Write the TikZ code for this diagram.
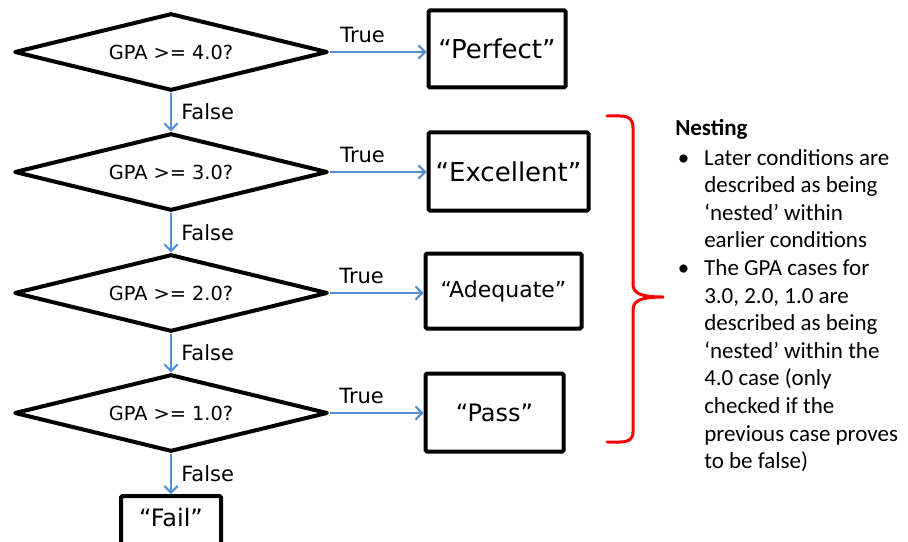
\documentclass[tikz,border=0pt]{standalone}
\usepackage{fontspec}
\setmainfont{DejaVu Sans}
\newfontfamily\calib{Carlito}
\usetikzlibrary{shapes.geometric,arrows.meta}
\definecolor{flowblue}{RGB}{85,142,213}
\definecolor{bracered}{RGB}{250,0,0}
\begin{document}
\begin{tikzpicture}[x=0.75pt,y=-0.75pt,
  decision/.style={diamond, draw, line width=3pt, line join=round, aspect=4,
    minimum width=235pt, minimum height=58pt, inner sep=0pt,
    font=\fontsize{14.5}{17}\selectfont},
  outcome/.style={rectangle, draw, line width=3pt, inner sep=0pt,
    rounded corners=1pt},
  flow/.style={draw=flowblue, line width=1.5pt,
    -{Straight Barb[length=5pt,width=10pt,line width=1.5pt]}},
  lbl/.style={font=\fontsize{15.75}{18}\selectfont, inner sep=1pt},
  bracestyle/.style={draw=bracered, line width=2.25pt, line cap=round, line join=round}
]
\useasboundingbox (0,0) rectangle (908,542);

% decisions
\node[decision] (d1) at (171,52)  {GPA >= 4.0?};
\node[decision] (d2) at (171,172) {GPA >= 3.0?};
\node[decision] (d3) at (171,293) {GPA >= 2.0?};
\node[decision] (d4) at (171,413) {GPA >= 1.0?};

% outcomes
\node[outcome, minimum width=102.75pt, minimum height=57.75pt,
  font=\fontsize{19.5}{22}\selectfont] (b1) at (497,49) {“Perfect”};
\node[outcome, minimum width=120pt, minimum height=58.5pt,
  font=\fontsize{19.5}{22}\selectfont] (b2) at (508.5,171.5) {“Excellent”};
\node[outcome, minimum width=117pt, minimum height=56.25pt,
  font=\fontsize{16.5}{20}\selectfont] (b3) at (503.5,291) {“Adequate”};
\node[outcome, minimum width=103.5pt, minimum height=58.5pt,
  font=\fontsize{18}{21}\selectfont] (b4) at (494.5,412.5) {“Pass”};
\node[outcome, anchor=north, minimum width=75pt, inner ysep=3pt,
  text height=20pt, text depth=24pt,
  font=\fontsize{18}{21}\selectfont] (fail) at (171,494) {“Fail”};

% false connectors
\draw[flow] (d1.south) -- node[lbl, right=6pt] (f1) {False} (d2.north);
\draw[flow] (d2.south) -- node[lbl, right=6pt] (f2) {False} (d3.north);
\draw[flow] (d3.south) -- node[lbl, right=6pt] (f3) {False} (d4.north);
\draw[flow] (d4.south) -- node[lbl, right=6pt] (f4) {False} (fail.north);

% true connectors
\draw[flow] (d1.east) -- node[lbl, above=5pt, pos=0.34] (t1) {True} (d1.east -| b1.west);
\draw[flow] (d2.east) -- node[lbl, above=5pt, pos=0.34] (t2) {True} (d2.east -| b2.west);
\draw[flow] (d3.east) -- node[lbl, above=5pt, pos=0.34] (t3) {True} (d3.east -| b3.west);
\draw[flow] (d4.east) -- node[lbl, above=5pt, pos=0.34] (t4) {True} (d4.east -| b4.west);

% brace
\draw[bracestyle] (607,116) -- (620,116)
  .. controls (629,116) and (633,119) .. (633,128) -- (633,284)
  .. controls (633,293) and (640,297) .. (663,297)
  .. controls (640,297) and (633,301) .. (633,310) -- (633,432)
  .. controls (633,439) and (629,442) .. (620,442) -- (607,442);

% notes
\node[anchor=north west, inner sep=0pt, align=left,
  font=\calib\fontsize{17.25}{20.7}\selectfont] (notes) at (675,116) {%
\begin{tabular}{@{}p{21.75pt}@{}l@{}}
\multicolumn{2}{@{}l@{}}{\textbf{Nesting}}\\[1.5pt]
\hspace{2pt}•& Later conditions are\\
& described as being\\
& ‘nested’ within\\
& earlier conditions\\
\hspace{2pt}•& The GPA cases for\\
& 3.0, 2.0, 1.0 are\\
& described as being\\
& ‘nested’ within the\\
& 4.0 case (only\\
& checked if the\\
& previous case proves\\
& to be false)
\end{tabular}};
\end{tikzpicture}
\end{document}
